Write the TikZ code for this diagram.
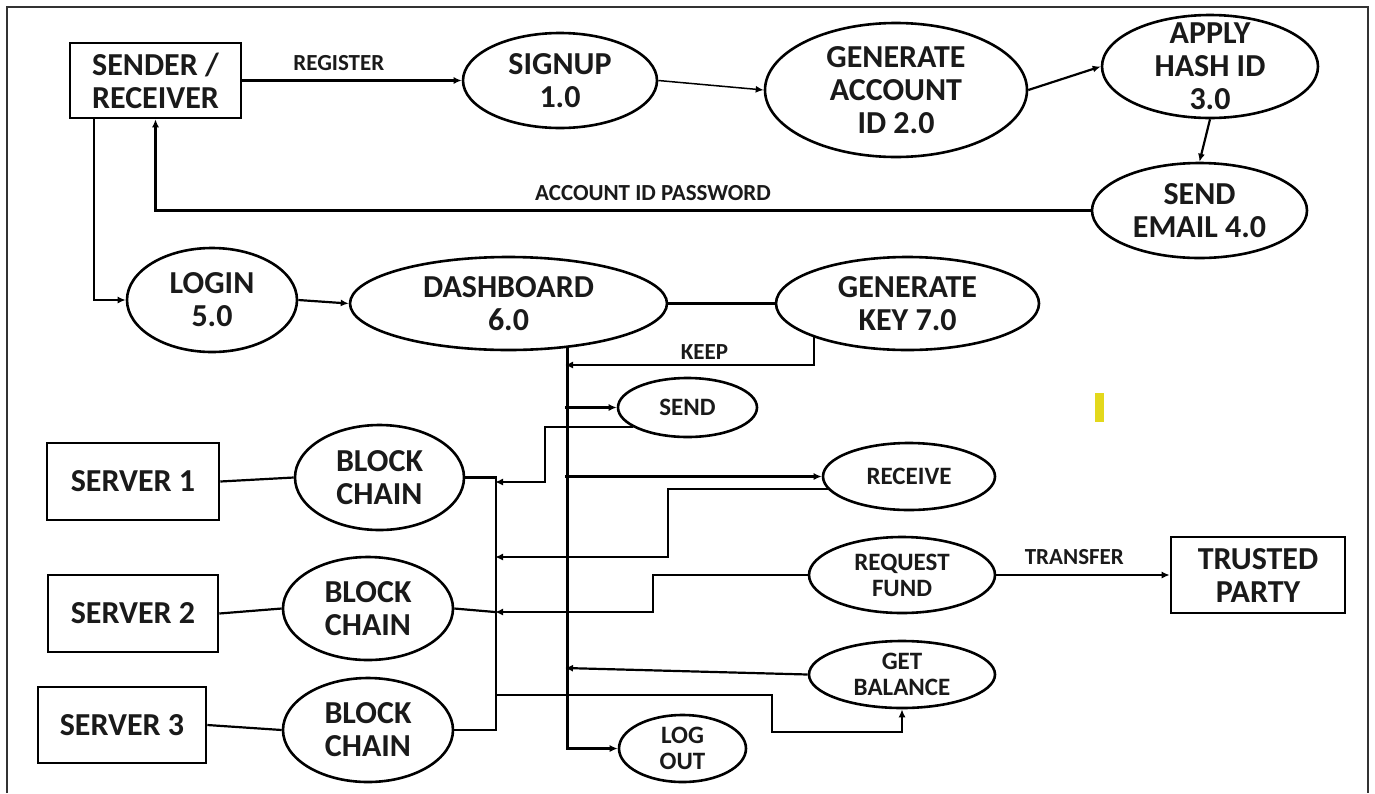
\documentclass[tikz,border=0pt]{standalone}
\usepackage{fontspec}
\setmainfont{Carlito}
\usetikzlibrary{arrows.meta,shapes.geometric,calc}
\definecolor{ink}{HTML}{1A1A1A}
\definecolor{ymark}{HTML}{E3D81C}
\begin{document}
\begin{tikzpicture}[x=1pt,y=-1pt,
  box/.style={draw=black, line width=2.6pt, rectangle, inner sep=0pt, align=center, text=ink, font=\bfseries\fontsize{32}{33}\selectfont},
  bell/.style={draw=black, line width=2.6pt, ellipse, inner sep=-12pt, align=center, text=ink, font=\bfseries\fontsize{32}{33}\selectfont},
  sell/.style={bell, font=\bfseries\fontsize{25}{26}\selectfont},
  lbl/.style={inner sep=0pt, text=ink, font=\bfseries\fontsize{23}{24}\selectfont},
  conn/.style={line width=2.2pt, draw=black},
  arr/.style={conn, -{Latex[length=8pt,width=7pt]}},
]
\useasboundingbox (0,0) rectangle (1375,793);
\fill[white] (0,0) rectangle (1375,793);
\draw[line width=1.6pt, draw=black!80] (7,793) -- (7,7) -- (1368,7) -- (1368,793);

% nodes
\node[box, minimum width=171pt, minimum height=75pt] (sr) at (155.5,80.5) {SENDER /\\RECEIVER};
\node[bell, minimum width=194pt, minimum height=95pt] (signup) at (560,80.5) {SIGNUP\\1.0};
\node[bell, minimum width=262pt, minimum height=134pt] (gacc) at (896,90) {GENERATE\\ACCOUNT\\ID 2.0};
\node[bell, minimum width=216pt, minimum height=103pt] (hash) at (1210,66.5) {APPLY\\HASH ID\\3.0};
\node[bell, minimum width=215pt, minimum height=95pt] (email) at (1199.5,210.5) {SEND\\EMAIL 4.0};
\node[bell, minimum width=170pt, minimum height=104pt] (login) at (212,300) {LOGIN\\5.0};
\node[bell, minimum width=317pt, minimum height=93pt] (dash) at (508.5,303.5) {DASHBOARD\\6.0};
\node[bell, minimum width=263pt, minimum height=93pt] (gkey) at (907.5,303.5) {GENERATE\\KEY 7.0};
\node[sell, minimum width=139pt, minimum height=59pt] (send) at (687.5,407.5) {SEND};
\node[box, minimum width=172pt, minimum height=77pt] (s1) at (133,481.5) {SERVER 1};
\node[bell, minimum width=169pt, minimum height=105pt] (bc1) at (379.5,477.5) {BLOCK\\CHAIN};
\node[sell, minimum width=172pt, minimum height=67pt] (receive) at (909,476.5) {RECEIVE};
\node[box, minimum width=170pt, minimum height=77pt] (s2) at (133,613.5) {SERVER 2};
\node[bell, minimum width=170pt, minimum height=103pt] (bc2) at (368,608.5) {BLOCK\\CHAIN};
\node[sell, minimum width=186pt, minimum height=76pt] (rfund) at (902,575) {REQUEST\\FUND};
\node[box, minimum width=174pt, minimum height=76pt] (tp) at (1258,575) {TRUSTED\\PARTY};
\node[sell, minimum width=186pt, minimum height=67pt] (gbal) at (902,674.5) {GET\\BALANCE};
\node[box, minimum width=168pt, minimum height=76pt] (s3) at (122,725) {SERVER 3};
\node[bell, minimum width=170pt, minimum height=104pt] (bc3) at (368,730) {BLOCK\\CHAIN};
\node[sell, minimum width=127pt, minimum height=67pt] (logout) at (682.5,748.5) {LOG\\OUT};

% helper coordinates
\coordinate (tx) at (565,0);
\coordinate (keepend) at (565,365);
\coordinate (b1) at (495,482);
\coordinate (b2) at (495,557);
\coordinate (b3) at (495,612);
\coordinate (b4) at (495,695);
\coordinate (tg) at (565,668);

% connectors
\draw[arr] (sr) -- node[lbl, pos=0.44, yshift=17pt]{REGISTER} (signup);
\draw[arr, line width=1.5pt] (signup.east) -- (gacc.west);
\draw[arr] (gacc.east) -- (hash.west);
\draw[arr] (hash.south) -- (email.north);
\draw[arr, line width=2.6pt] (email.west) -| node[lbl, pos=0.234, yshift=17.5pt]{ACCOUNT ID PASSWORD} (sr.south);
\draw[arr] ([xshift=-61.5pt]sr.south) |- (login.west);
\draw[arr] (login.east) -- (dash.west);
\draw[conn] (dash.east) -- (gkey.west);
\draw[arr] (gkey.200) |- node[lbl, pos=0.72, yshift=13pt]{KEEP} (keepend);
\draw[arr] (dash.-37.5) |- (logout.west);
\draw[arr] (send.west -| tx) -- (send.west);
\draw[arr] (send.200) -| (545,482) -- (b1);
\draw[conn] (bc1.east) -- ++(31,0) |- (bc3.east);
\draw[arr] (receive.west -| tx) -- (receive.west);
\draw[arr] (receive.189) -| (668,557) -- (b2);
\draw[arr] (rfund.west) -| (653,612) -- (b3);
\draw[conn] (bc2.east) -- (b3);
\draw[arr] (rfund.east) -- node[lbl, pos=0.45, yshift=18pt]{TRANSFER} (tp.west);
\draw[arr] (gbal.west) -- (tg);
\draw[arr] (b4) -| (772,732) -| (gbal.south);
\draw[conn] (s1.east) -- (bc1.west);
\draw[conn] (s2.east) -- (bc2.west);
\draw[conn] (s3.east) -- (bc3.west);

\fill[ymark] (1095,393) rectangle (1104,422);
\end{tikzpicture}
\end{document}
